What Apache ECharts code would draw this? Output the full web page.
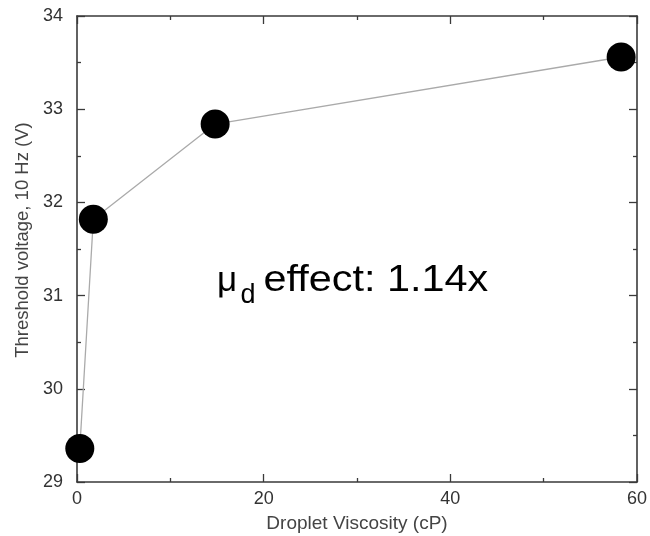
<!DOCTYPE html>
<html>
<head>
<meta charset="utf-8">
<script src="https://cdn.jsdelivr.net/npm/echarts@6/dist/echarts.min.js"></script>
<style>
html,body{margin:0;padding:0;background:#fff;}
#chart{width:650px;height:536px;}
</style>
</head>
<body>
<div id="chart"></div>
<script>
// Data
var viscosity = [0.3, 1.75, 14.8, 58.3];           // Droplet viscosity (cP)
var thresholdVoltage = [29.36, 31.82, 32.84, 33.56]; // Threshold voltage, 10 Hz (V)
var xTicks = [0, 20, 40, 60];
var yTicks = [29, 30, 31, 32, 33, 34];
var xAxisName = 'Droplet Viscosity (cP)';
var yAxisName = 'Threshold voltage, 10 Hz (V)';
var annotationMu = 'μ';
var annotationSub = 'd';
var annotationRest = 'effect: 1.14x';

var FONT = '"Liberation Sans", Arial, Helvetica, sans-serif';
var axisColor = '#3a3a3a';

function makeAxis(isX, pos, showLabels, ticks, name) {
  var a = {
    type: 'value',
    position: pos,
    min: ticks[0],
    max: ticks[ticks.length - 1],
    interval: ticks[1] - ticks[0],
    axisLine: { show: true, onZero: false, lineStyle: { color: axisColor, width: 1.6 } },
    axisTick: { show: true, inside: true, length: 8, lineStyle: { color: axisColor, width: 1.3 } },
    minorTick: { show: true, splitNumber: 2, length: 4, lineStyle: { color: axisColor, width: 1.3 } },
    splitLine: { show: false },
    minorSplitLine: { show: false },
    axisLabel: {
      show: showLabels,
      fontFamily: FONT,
      fontSize: 18,
      color: '#333',
      margin: isX ? 8 : 14
    }
  };
  if (name) {
    a.name = name;
    a.nameLocation = 'middle';
    a.nameGap = isX ? 32 : 36;
    a.nameTextStyle = isX
      ? { fontFamily: FONT, fontSize: 19, color: '#444' }
      : { fontFamily: FONT, fontSize: 18.5, color: '#444', padding: [0, 0, 0, 18] };
  }
  return a;
}

var chart = echarts.init(document.getElementById('chart'), null, { renderer: 'canvas' });
chart.setOption({
  animation: false,
  backgroundColor: '#fff',
  grid: { left: 77, right: 13, top: 16, bottom: 54, containLabel: false, outerBoundsMode: 'none' },
  xAxis: [
    makeAxis(true, 'bottom', true, xTicks, xAxisName),
    makeAxis(true, 'top', false, xTicks, null)
  ],
  yAxis: [
    makeAxis(false, 'left', true, yTicks, yAxisName),
    makeAxis(false, 'right', false, yTicks, null)
  ],
  series: [{
    type: 'line',
    xAxisIndex: 0,
    yAxisIndex: 0,
    data: viscosity.map(function (v, i) { return [v, thresholdVoltage[i]]; }),
    symbol: 'circle',
    symbolSize: 29,
    itemStyle: { color: '#000', borderWidth: 0 },
    lineStyle: { color: '#aaaaaa', width: 1.3 },
    z: 3
  }],
  graphic: [
    { type: 'text', x: 217, y: 264, style: { text: annotationMu, x: 0, y: 0, verticalAlign: 'top', fontFamily: FONT, fontSize: 35, fill: '#000' } },
    { type: 'text', x: 240.5, y: 282.5, style: { text: annotationSub, x: 0, y: 0, verticalAlign: 'top', fontFamily: FONT, fontSize: 27, fill: '#000' } },
    { type: 'text', x: 263.5, y: 263, scaleX: 1.15, style: { text: annotationRest, x: 0, y: 0, verticalAlign: 'top', fontFamily: FONT, fontSize: 36, fill: '#000' } }
  ]
});
</script>
</body>
</html>
